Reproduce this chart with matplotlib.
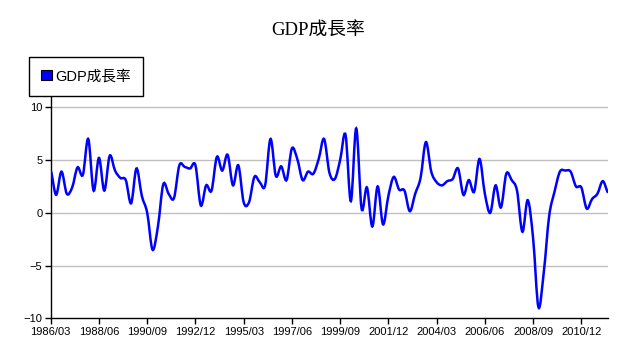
import matplotlib
matplotlib.use('Agg')
import matplotlib.pyplot as plt
from matplotlib.path import Path
from matplotlib.patches import PathPatch, Patch

# quarterly GDP growth (%), 1986/03 .. 2012/03
gdp_growth = [
    4.0, 1.7, 3.9, 1.8, 2.4, 4.3, 3.6, 7.0, 2.1, 5.2,
    2.1, 5.4, 4.0, 3.3, 3.1, 0.9, 4.2, 1.6, 0.0, -3.5,
    -1.3, 2.7, 1.8, 1.4, 4.5, 4.35, 4.2, 4.5, 0.7, 2.6,
    2.1, 5.3, 4.0, 5.5, 2.6, 4.5, 1.0, 1.0, 3.4, 2.9,
    2.6, 7.0, 3.5, 4.4, 3.1, 6.1, 5.1, 3.1, 3.9, 3.7,
    5.1, 7.0, 3.8, 3.2, 5.0, 7.4, 1.1, 8.0, 0.4, 2.4,
    -1.3, 2.5, -1.1, 1.6, 3.4, 2.2, 2.1, 0.15, 1.8, 3.3,
    6.7, 3.9, 2.9, 2.6, 3.0, 3.2, 4.2, 1.7, 3.1, 2.0,
    5.1, 1.8, 0.0, 2.6, 0.5, 3.7, 3.1, 2.1, -1.8, 1.2,
    -2.4, -8.95, -5.6, -0.3, 2.0, 3.9, 4.0, 3.9, 2.5, 2.4,
    0.4, 1.3, 1.8, 3.0, 1.9,
]
tick_labels = ['1986/03', '1988/06', '1990/09', '1992/12', '1995/03', '1997/06',
               '1999/09', '2001/12', '2004/03', '2006/06', '2008/09', '2010/12']
y_ticks = [-10, -5, 0, 5, 10]
series_name = 'GDP成長率'

x = list(range(len(gdp_growth)))

# smoothed line (Catmull-Rom handles -> cubic bezier)
verts = [(x[0], gdp_growth[0])]
codes = [Path.MOVETO]
n = len(x)
for i in range(n - 1):
    p0 = gdp_growth[max(i - 1, 0)]
    p1 = gdp_growth[i]
    p2 = gdp_growth[i + 1]
    p3 = gdp_growth[min(i + 2, n - 1)]
    verts += [(x[i] + 1 / 3, p1 + (p2 - p0) / 6),
              (x[i + 1] - 1 / 3, p2 - (p3 - p1) / 6),
              (x[i + 1], p2)]
    codes += [Path.CURVE4] * 3

fig = plt.figure(figsize=(6.27, 3.46), dpi=100)
ax = fig.add_axes([0.0809, 0.080, 0.889, 0.6405])

ax.add_patch(PathPatch(Path(verts, codes), facecolor='none', edgecolor='#0000ff',
                       linewidth=1.8, zorder=3))

ax.set_xlim(0, n - 1)
ax.set_ylim(-10, 11)
ax.set_yticks(y_ticks)
ax.set_xticks(x[::9][:len(tick_labels)])
ax.set_xticklabels(tick_labels)
for yv in y_ticks[1:]:
    ax.axhline(yv, color='#c0c0c0', linewidth=1, zorder=1)

for s in ['top', 'right']:
    ax.spines[s].set_visible(False)
for s in ['left', 'bottom']:
    ax.spines[s].set_linewidth(1)
ax.tick_params(length=4, width=1, pad=2, labelsize=8)
for lbl in ax.get_xticklabels() + ax.get_yticklabels():
    lbl.set_family('Liberation Sans')

fig.text(0.507, 0.91, series_name, ha='center', va='center', fontsize=13.5,
         family=['Liberation Serif', 'Noto Sans CJK TC'])

leg = fig.legend(handles=[Patch(facecolor='#0000ff', edgecolor='black', linewidth=0.8)],
                 labels=[series_name], loc='upper left',
                 bbox_to_anchor=(29 / 627, 1 - 57 / 346),
                 prop={'family': ['Liberation Sans', 'Noto Sans CJK TC'], 'size': 10.5},
                 fancybox=False, framealpha=1, edgecolor='black',
                 handlelength=0.7, handleheight=0.7, handletextpad=0.25,
                 borderpad=0.85, borderaxespad=0)
leg.get_frame().set_linewidth(1)

fig.savefig('out.png', dpi=100)
